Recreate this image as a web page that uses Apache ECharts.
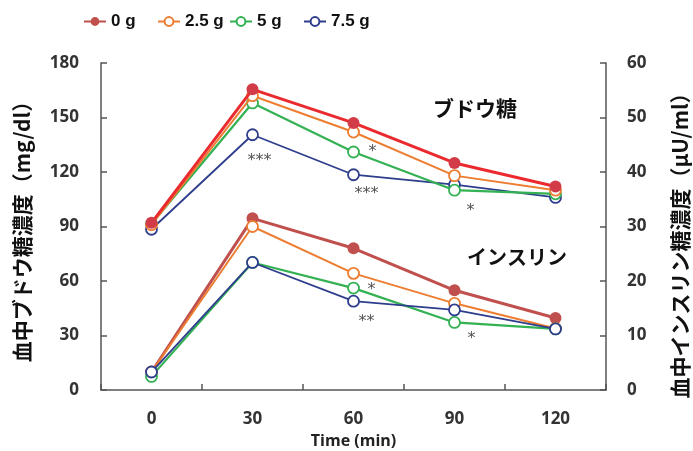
<!DOCTYPE html>
<html lang="ja">
<head>
    <meta charset="UTF-8">
    <title>ブドウ糖・インスリン</title>
    <style>
        html,body{margin:0;padding:0;background:#fff;}
        #main{width:693px;height:451px;}
    </style>
    <script type="text/javascript" src="https://cdn.jsdelivr.net/npm/echarts@6/dist/echarts.min.js"></script>
</head>
<body>
<div id="main"></div>
</body>
<script>
    // data
    let times=['0','30','60','90','120'];
    let doses=['0 g','2.5 g','5 g','7.5 g'];
    let glucose0=[92,165.5,147,125,112];
    let glucose25=[91,162,142,118,110];
    let glucose5=[91.5,158,131,110,108];
    let glucose75=[88.5,140.5,118.5,113,106];
    let insulin0=[3.3,31.5,26,18.3,13.2];
    let insulin25=[3.3,30,21.4,15.9,11.3];
    let insulin5=[2.5,23.4,18.7,12.4,11.2];
    let insulin75=[3.3,23.4,16.3,14.7,11.2];
    let leftTicks=[0,180,30];
    let rightTicks=[0,60,10];
    // significance marks: [series key, point index, text]
    let stars=[
        ['g75',1,'***'],
        ['g5',2,'*'],
        ['g75',2,'***'],
        ['g5',3,'*'],
        ['i25',2,'*'],
        ['i75',2,'**'],
        ['i5',3,'*']
    ];
    let starOffset={
        'g75-1':[7,26],'g5-2':[19,0],'g75-2':[13,19],'g5-3':[16,21],
        'i25-2':[18,16],'i75-2':[13,21],'i5-3':[17,16]
    };

    let chart=echarts.init(document.getElementById('main'));
    let cols=['#c0504d','#ed7d31','#33b153','#2e3d8c'];
    let font='"Open Sans", "Noto Sans CJK JP", sans-serif';

    function pts(key,vals){
        return vals.map((v,i)=>{
            let s=stars.find(st=>st[0]===key&&st[1]===i);
            if(!s) return v;
            return {
                value:v,
                label:{
                    show:true,position:'inside',formatter:s[2],
                    offset:starOffset[key+'-'+i],
                    color:'#555',fontSize:16,fontFamily:'"DejaVu Sans", sans-serif'
                }
            };
        });
    }

    function line(name,key,vals,axis,color,filled,width,z){
        return {
            type:'line',name:name,yAxisIndex:axis,
            data:pts(key,vals),
            symbol:'circle',symbolSize:filled?12:11,
            z:z,
            lineStyle:{color:color,width:width},
            itemStyle:{
                color:filled?color:'#fff',
                borderColor:color,
                borderWidth:filled?0:1.8
            },
            emphasis:{disabled:true}
        };
    }

    let series=[
        line(doses[0],'i0',insulin0,1,cols[0],true,3,2),
        line(doses[1],'i25',insulin25,1,cols[1],false,2,3),
        line(doses[2],'i5',insulin5,1,cols[2],false,2.2,4),
        line(doses[3],'i75',insulin75,1,cols[3],false,1.8,5),
        line(doses[3],'g75',glucose75,0,cols[3],false,1.8,6),
        line(doses[2],'g5',glucose5,0,cols[2],false,2.2,7),
        line(doses[1],'g25',glucose25,0,cols[1],false,2,8),
        line(doses[0],'g0',glucose0,0,'#ea2a2e',true,3,9)
    ];
    series[7].itemStyle.color='#d23c48';

    let legendLeft=[83,157,229,303];
    let legends=doses.map((d,i)=>({
        data:[d],left:legendLeft[i],top:13,padding:0,
        itemWidth:22,itemHeight:11,itemGap:8,
        selectedMode:false,
        textStyle:{fontSize:17,fontWeight:'bold',color:'#111',
            fontFamily:'"Liberation Sans Narrow", "Liberation Sans", Arial, sans-serif'}
    }));

    let axisLine={show:true,lineStyle:{color:'#555',width:1.5}};
    let axisTick={show:true,inside:true,length:6,lineStyle:{color:'#555',width:1.5}};
    let axisLabel={fontSize:17,fontWeight:'bold',color:'#333',fontFamily:font};

    let option={
        animation:false,
        backgroundColor:'#fff',
        legend:legends,
        grid:{left:101,right:87,top:63,bottom:61,containLabel:false,outerBoundsMode:'none'},
        xAxis:{
            type:'category',data:times,boundaryGap:true,
            name:'Time (min)',nameLocation:'middle',nameGap:43,
            nameTextStyle:{fontSize:16,fontWeight:'bold',color:'#222',fontFamily:font},
            axisLine:axisLine,
            axisTick:axisTick,
            axisLabel:Object.assign({margin:21},axisLabel),
            splitLine:{show:false}
        },
        yAxis:[
            {
                type:'value',min:leftTicks[0],max:leftTicks[1],interval:leftTicks[2],
                name:'血中ブドウ糖濃度（mg/dl）',nameLocation:'middle',nameGap:68,nameRotate:90,
                nameTextStyle:{fontSize:21,fontWeight:'bold',color:'#111',fontFamily:'"Noto Sans CJK JP", sans-serif'},
                axisLine:axisLine,
                axisTick:axisTick,
                axisLabel:Object.assign({margin:22},axisLabel),
                splitLine:{show:false}
            },
            {
                type:'value',position:'right',min:rightTicks[0],max:rightTicks[1],interval:rightTicks[2],
                name:'血中インスリン糖濃度（μU/ml）',nameLocation:'middle',nameGap:64,nameRotate:90,
                nameTextStyle:{fontSize:21,fontWeight:'bold',color:'#111',fontFamily:'"Noto Sans CJK JP", sans-serif',
                    padding:[0,28,0,0]},
                axisLine:axisLine,
                axisTick:axisTick,
                axisLabel:Object.assign({margin:21},axisLabel),
                splitLine:{show:false}
            }
        ],
        graphic:[
            {type:'text',left:433,top:98,style:{text:'ブドウ糖',fontSize:21,fontWeight:'bold',fill:'#111',fontFamily:'"Noto Sans CJK JP", sans-serif'}},
            {type:'text',left:467,top:247,style:{text:'インスリン',fontSize:20,fontWeight:'bold',fill:'#111',fontFamily:'"Noto Sans CJK JP", sans-serif'}}
        ],
        series:series
    };
    chart.setOption(option);
</script>
</html>
